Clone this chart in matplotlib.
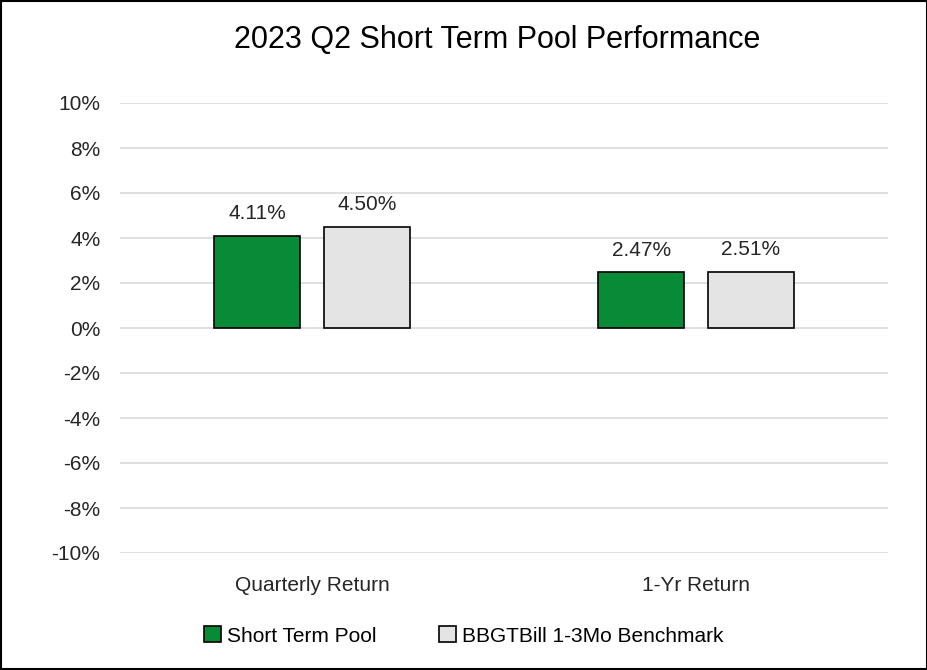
import matplotlib
matplotlib.use("Agg")
import matplotlib.pyplot as plt
from matplotlib import font_manager as fm
import numpy as np

names = {f.name for f in fm.fontManager.ttflist}
fam = "Liberation Sans Narrow" if "Liberation Sans Narrow" in names else "Liberation Sans"
plt.rcParams['font.family'] = [fam, 'DejaVu Sans']

categories = ["Quarterly Return", "1-Yr Return"]
series_names = ["Short Term Pool", "BBGTBill 1-3Mo Benchmark"]
pool = [4.11, 2.47]
bench = [4.50, 2.51]
yticks = [-10, -8, -6, -4, -2, 0, 2, 4, 6, 8, 10]

fig = plt.figure(figsize=(9.28, 6.70), dpi=100)
ax = fig.add_axes([120/928, 1-553/670, 768/928, 450/670])

x = np.arange(len(categories))
w = 0.224
off = 0.143
b1 = ax.bar(x - off, pool, w, color="#078B36", edgecolor="black", linewidth=1.2, label=series_names[0], zorder=3)
b2 = ax.bar(x + off, bench, w, color="#E4E4E4", edgecolor="black", linewidth=1.2, label=series_names[1], zorder=3)
for bars, vals in ((b1, pool), (b2, bench)):
    for r, v in zip(bars, vals):
        ax.text(r.get_x() + r.get_width()/2, v + 0.55, f"{v:.2f}%", ha="center", va="bottom", fontsize=15, color="#262626")

ax.set_xlim(-0.5, 1.5)
ax.set_ylim(-10, 10)
ax.set_yticks(yticks)
ax.set_yticklabels([f"{t}%" for t in yticks], fontsize=15, color="#262626")
ax.yaxis.grid(True, color="#D9D9D9", linewidth=1.2, zorder=0)
ax.set_xticks(x)
ax.set_xticklabels(categories, fontsize=15, color="#262626")
ax.tick_params(axis="both", length=0)
ax.tick_params(axis="y", pad=20)
ax.tick_params(axis="x", pad=0)
for lbl in ax.get_yticklabels():
    lbl.set_x(0.0107)
for lbl in ax.get_xticklabels():
    lbl.set_y(-0.052)
for s in ax.spines.values():
    s.set_visible(False)

fig.text(497/928, 1-40/670, "2023 Q2 Short Term Pool Performance", ha="center", va="center", fontsize=22, color="#000000")

leg = fig.legend(handles=[b1, b2], loc="center", bbox_to_anchor=(0.5, 1-636/670), ncol=2, frameon=False,
                 fontsize=15, handlelength=0.8, handleheight=0.8, handletextpad=0.3, columnspacing=3)

fig.patches.append(plt.Rectangle((0.001, 0.001), 0.998, 0.998, transform=fig.transFigure, fill=False, edgecolor="black", linewidth=1.5))
fig.savefig("out.png", dpi=100)
